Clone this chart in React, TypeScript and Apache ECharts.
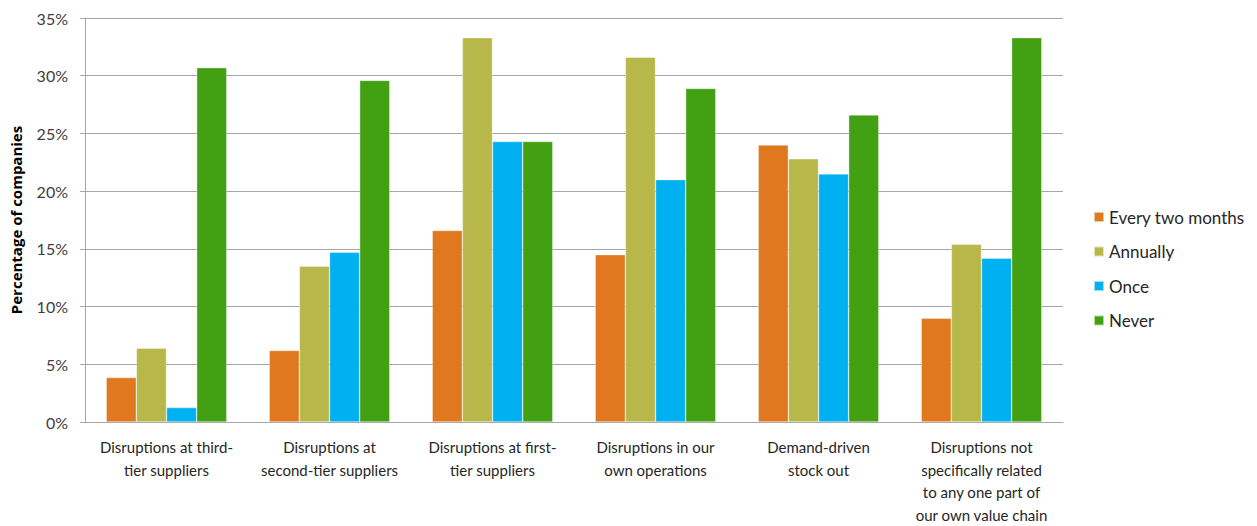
import React, { useEffect, useRef } from "react";
import * as echarts from "echarts";

const categories = [
  "Disruptions at third-\ntier suppliers",
  "Disruptions at\nsecond-tier suppliers",
  "Disruptions at first-\ntier suppliers",
  "Disruptions in our\nown operations",
  "Demand-driven\nstock out",
  "Disruptions not\nspecifically related\nto any one part of\nour own value chain",
];

const everyTwoMonths = [3.85, 6.2, 16.6, 14.5, 24.0, 9.0];
const annually = [6.4, 13.5, 33.3, 31.6, 22.8, 15.4];
const once = [1.25, 14.7, 24.3, 21.0, 21.5, 14.2];
const never = [30.7, 29.6, 24.3, 28.9, 26.6, 33.3];

const seriesNames = ["Every two months", "Annually", "Once", "Never"];
const seriesColors = ["#E07820", "#B8B84A", "#00B0F0", "#42A012"];
const seriesValues = [everyTwoMonths, annually, once, never];

const FONT = "Lato, 'Open Sans', sans-serif";

export default function App() {
  const ref = useRef<HTMLDivElement>(null);
  useEffect(() => {
    if (!ref.current) return;
    const chart = echarts.init(ref.current, null, { renderer: "svg" });
    chart.setOption({
      animation: false,
      backgroundColor: "#ffffff",
      textStyle: { fontFamily: FONT },
      grid: { left: 81, right: 194, top: 18, bottom: 102 },
      legend: {
        orient: "vertical",
        left: 1093,
        top: 208,
        padding: 0,
        itemWidth: 10,
        itemHeight: 10,
        itemGap: 16.5,
        icon: "rect",
        textStyle: { fontFamily: FONT, fontSize: 17, color: "#262626", lineHeight: 18 },
        data: seriesNames,
      },
      xAxis: {
        type: "category",
        data: categories,
        axisLine: { lineStyle: { color: "#A6A6A6", width: 1 } },
        axisTick: { show: false },
        axisLabel: {
          interval: 0,
          fontFamily: FONT,
          fontSize: 15,
          color: "#262626",
          lineHeight: 22.5,
          margin: 14,
        },
      },
      yAxis: {
        type: "value",
        min: 0,
        max: 35,
        interval: 5,
        name: "Percentage of companies",
        nameLocation: "middle",
        nameGap: 62,
        nameRotate: 90,
        nameTextStyle: { fontFamily: "'Open Sans', sans-serif", fontSize: 15, fontWeight: "bold", color: "#000000" },
        axisLine: { show: true, lineStyle: { color: "#A6A6A6", width: 1 } },
        axisTick: { show: true, length: 5, lineStyle: { color: "#A6A6A6" } },
        splitLine: { lineStyle: { color: "#A6A6A6", width: 1 } },
        axisLabel: {
          formatter: "{value}%",
          fontFamily: FONT,
          fontSize: 16,
          color: "#404040",
          margin: 17,
        },
      },
      series: seriesNames.map((name, i) => ({
        name,
        type: "bar",
        data: seriesValues[i],
        barGap: "0%",
        barCategoryGap: "26%",
        itemStyle: { color: seriesColors[i], borderColor: "rgba(255,255,255,0.6)", borderWidth: 0.6 },
      })),
    });
    return () => chart.dispose();
  }, []);
  return (
    <div
      ref={ref}
      style={{ position: "fixed", left: 0, top: 0, width: 1257, height: 526 }}
    />
  );
}
